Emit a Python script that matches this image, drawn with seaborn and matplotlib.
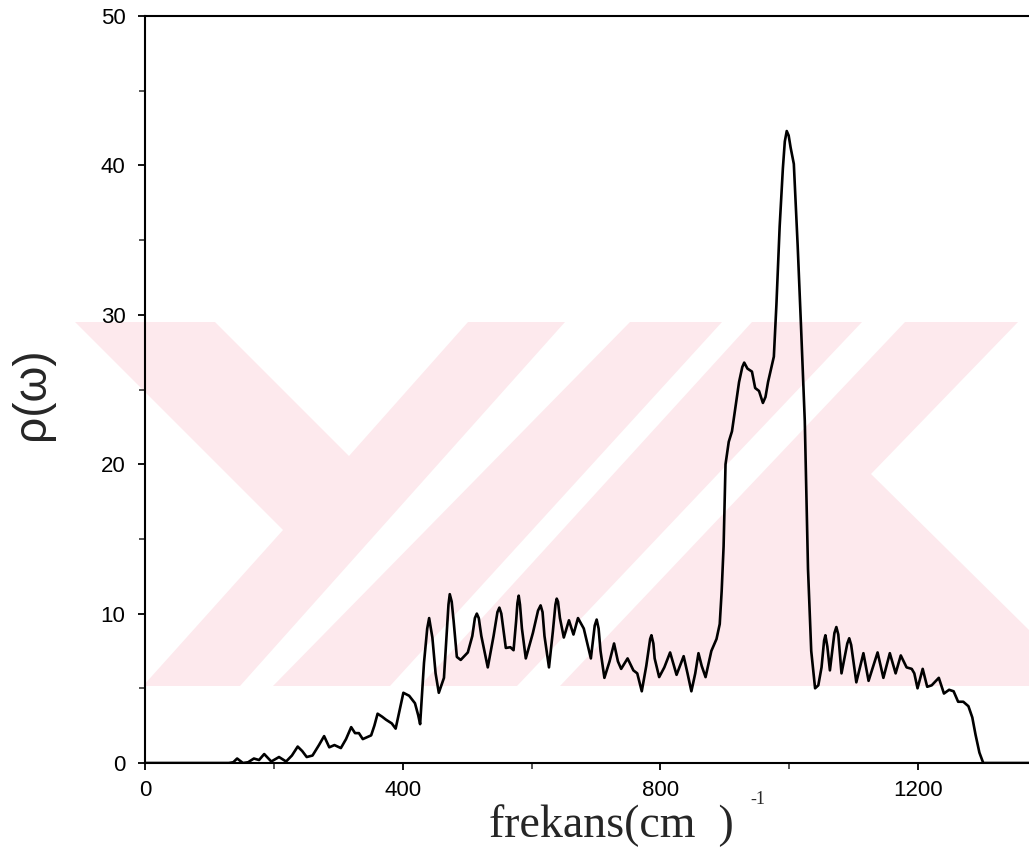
import numpy as np
import pandas as pd
import matplotlib
matplotlib.use('Agg')
import matplotlib.pyplot as plt
import seaborn as sns
from matplotlib.ticker import MultipleLocator
from matplotlib.patches import Polygon

# frekans (cm^-1) and rho(omega)
frekans = [0, 130, 137, 143, 152, 160, 169, 177, 185, 196, 208, 219, 228, 237, 244, 251, 260, 270, 278, 286,
           294, 304, 312, 320, 326, 332, 338, 351, 356, 361, 368, 374, 383, 389, 395, 401, 410, 419, 424, 427,
           433, 438, 441, 446, 451, 456, 464, 468, 471, 473, 476, 479, 484, 490, 501, 508, 512, 515, 518, 522,
           532, 541, 547, 550, 553, 560, 567, 572, 576, 578, 580, 582, 585, 591, 602, 610, 614, 617, 620, 627,
           633, 637, 639, 641, 644, 650, 658, 665, 672, 681, 692, 698, 701, 704, 707, 713, 721, 728, 734, 739,
           749, 758, 764, 771, 778, 784, 786, 789, 791, 798, 806, 815, 825, 836, 842, 848, 854, 859, 864, 870,
           879, 887, 892, 895, 898, 901, 906, 911, 917, 922, 927, 930, 935, 942, 947, 953, 959, 963, 967, 976,
           980, 985, 990, 993, 996, 999, 1002, 1007, 1013, 1018, 1024, 1029, 1034, 1040, 1045, 1050, 1054, 1056, 1059, 1063,
           1070, 1073, 1076, 1081, 1090, 1093, 1096, 1104, 1115, 1123, 1137, 1146, 1156, 1165, 1173, 1182, 1190, 1194, 1199, 1207,
           1214, 1221, 1232, 1240, 1248, 1255, 1262, 1270, 1278, 1284, 1289, 1295, 1301, 1372]
rho = [0, 0, 0.05, 0.3, 0.0, 0.05, 0.3, 0.2, 0.6, 0.1, 0.4, 0.1, 0.5, 1.1, 0.8, 0.4, 0.5, 1.2, 1.8, 1.05,
       1.2, 1.0, 1.6, 2.4, 2.0, 2.0, 1.6, 1.85, 2.5, 3.3, 3.1, 2.9, 2.65, 2.3, 3.5, 4.7, 4.5, 4.0, 3.2, 2.6,
       6.7, 9.0, 9.7, 8.4, 6.0, 4.7, 5.7, 8.5, 10.6, 11.3, 10.8, 9.5, 7.1, 6.9, 7.4, 8.5, 9.7, 10.0, 9.7, 8.5,
       6.4, 8.5, 10.1, 10.4, 10.0, 7.7, 7.75, 7.55, 9.5, 10.7, 11.2, 10.6, 9.0, 7.0, 8.7, 10.2, 10.55, 10.1, 8.5, 6.4,
       8.8, 10.6, 11.0, 10.8, 9.7, 8.4, 9.55, 8.6, 9.7, 9.0, 7.0, 9.2, 9.6, 9.0, 7.5, 5.7, 6.8, 8.0, 6.8, 6.3,
       7.0, 6.2, 6.0, 4.8, 6.5, 8.3, 8.55, 8.0, 7.0, 5.75, 6.4, 7.4, 5.9, 7.15, 6.0, 4.8, 6.0, 7.35, 6.5, 5.75,
       7.5, 8.3, 9.3, 11.5, 14.5, 20.0, 21.5, 22.2, 24.0, 25.5, 26.5, 26.8, 26.4, 26.2, 25.1, 24.9, 24.1, 24.5, 25.5, 27.2,
       30.7, 35.9, 39.8, 41.6, 42.3, 42.0, 41.2, 40.1, 34.6, 29.4, 22.9, 13.0, 7.5, 5.0, 5.2, 6.4, 8.2, 8.55, 7.8, 6.2,
       8.7, 9.1, 8.6, 6.0, 8.0, 8.35, 7.9, 5.4, 7.35, 5.5, 7.4, 5.7, 7.35, 6.0, 7.2, 6.4, 6.3, 6.0, 5.0, 6.3,
       5.1, 5.2, 5.7, 4.65, 4.9, 4.8, 4.1, 4.1, 3.8, 3.05, 1.9, 0.7, 0.0, 0]

df = pd.DataFrame({'frekans': frekans, 'rho': rho})

sns.set_style('ticks')
plt.rcParams['font.family'] = ['Liberation Sans', 'DejaVu Sans']

W, H = 1029, 852
fig = plt.figure(figsize=(W / 100, H / 100), dpi=100)

# faint pink scan watermark behind the plot (figure pixel coords)
pink = '#fde9ed'
def px(pts):
    return [(x / W, 1 - y / H) for x, y in pts]
fig.patches.append(Polygon(px([(75, 322), (1029, 322), (1029, 686), (75, 686)]), closed=True,
                           transform=fig.transFigure, facecolor=pink, edgecolor='none', zorder=-2))
gaps = [
    [(75, 322), (283, 530), (143, 686), (75, 686)],
    [(215, 322), (468, 322), (349, 456)],
    [(565, 322), (630, 322), (273, 686), (240, 686)],
    [(722, 322), (752, 322), (420, 686), (390, 686)],
    [(862, 322), (905, 322), (560, 686), (517, 686)],
    [(1018, 322), (1029, 322), (1029, 630), (871, 474)],
]
for g in gaps:
    fig.patches.append(Polygon(px(g), closed=True, transform=fig.transFigure,
                               facecolor='white', edgecolor='none', zorder=-1))

ax = fig.add_axes([145 / W, 1 - 763 / H, 1 - 145 / W, (763 - 16) / H])
ax.set_facecolor('none')

sns.lineplot(data=df, x='frekans', y='rho', ax=ax, color='black', linewidth=1.9)

ax.set_xlim(0, 1372)
ax.set_ylim(0, 50)
ax.xaxis.set_major_locator(MultipleLocator(400))
ax.xaxis.set_minor_locator(MultipleLocator(200))
ax.yaxis.set_major_locator(MultipleLocator(10))
ax.yaxis.set_minor_locator(MultipleLocator(5))
ax.tick_params(which='major', direction='out', length=5, width=1.3, labelsize=16, colors='black')
ax.tick_params(axis='x', which='major', pad=7)
ax.tick_params(axis='y', which='major', pad=9)
ax.tick_params(which='minor', direction='out', length=4, width=1.1)
ax.spines['right'].set_visible(False)
for s in ['left', 'bottom', 'top']:
    ax.spines[s].set_linewidth(1.5)
    ax.spines[s].set_color('black')

ax.set_xlabel('')
ax.set_ylabel('')
fig.text(489 / W, 1 - 837 / H, 'frekans(cm  )', family='Liberation Serif', fontsize=33,
         ha='left', va='baseline')
fig.text(758 / W, 1 - 800 / H, '-1', family='Liberation Serif', fontsize=13, ha='center', va='center')
fig.text(32 / W, 1 - 394 / H, 'ρ(ω)', fontsize=33, rotation=90, ha='center', va='center')

fig.savefig('out.png', dpi=100)
